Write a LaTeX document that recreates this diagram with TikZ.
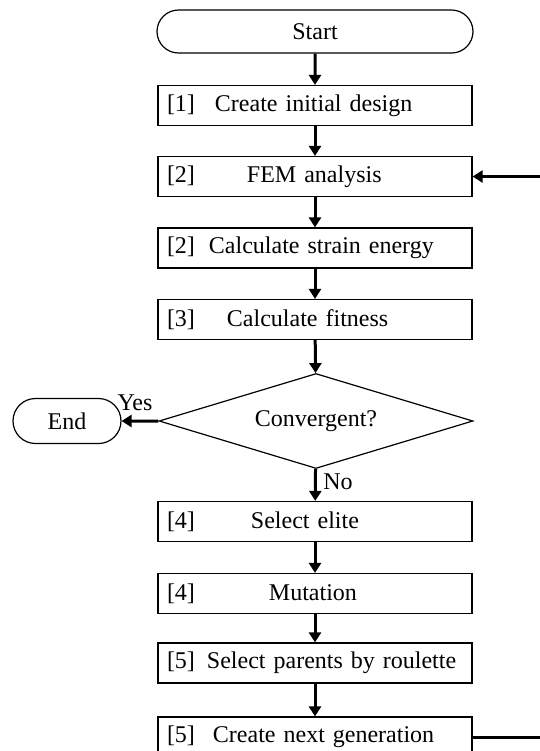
\documentclass[tikz,border=0pt]{standalone}
\usepackage{fontspec}
\setmainfont{Liberation Serif}
\usetikzlibrary{shapes.geometric,shapes.misc,arrows.meta}
\begin{document}
\begin{tikzpicture}[x=0.5pt,y=-0.5pt,
  every node/.style={font=\fontsize{12}{14}\selectfont},
  stepbox/.style={draw,line width=0.6pt,text width=148pt,inner xsep=4.5pt,inner ysep=0pt,minimum height=20pt,align=left},
  term/.style={draw,rounded rectangle,line width=0.6pt,inner sep=0pt},
  decision/.style={draw,diamond,aspect=3.3,line width=0.6pt,inner sep=0pt,minimum width=157pt,minimum height=47.5pt},
  flow/.style={line width=1.5pt,-{Triangle[length=5pt,width=6pt]}}]
\useasboundingbox (0,0) rectangle (540,751);
\clip (0,0) rectangle (540,751);
\node[term,minimum width=158pt,minimum height=21.5pt] (start) at (315,31.5) {Start};
\node[stepbox] (b1) at (315,105.5) {[1]\hspace{10pt}Create initial design};
\node[stepbox] (b2) at (315,176.5) {[2]\hspace{26pt}FEM analysis};
\node[stepbox] (b3) at (315,248) {[2]\hspace{7pt}Calculate strain energy};
\node[stepbox] (b4) at (315,319.5) {[3]\hspace{16pt}Calculate fitness};
\node[decision] (conv) at (316,421) {Convergent?};
\node[term,minimum width=54pt,minimum height=22.5pt] (end) at (67,421) {End};
\node[stepbox] (b5) at (315,521.5) {[4]\hspace{28pt}Select elite};
\node[stepbox] (b6) at (315,593.5) {[4]\hspace{37pt}Mutation};
\node[stepbox] (b7) at (315,663) {[5]\hspace{6pt}Select parents by roulette};
\node[stepbox] (b8) at (315,737) {[5]\hspace{9pt}Create next generation};
\node (yes) at (135,403) {Yes};
\node (no) at (338,482) {No};
\draw[flow] (start) -- (b1);
\draw[flow] (b1) -- (b2);
\draw[flow] (b2) -- (b3);
\draw[flow] (b3) -- (b4);
\draw[flow] (b4) -- (conv);
\draw[flow] (conv) -- (end);
\draw[flow] (conv) -- (b5);
\draw[flow] (b5) -- (b6);
\draw[flow] (b6) -- (b7);
\draw[flow] (b7) -- (b8);
\draw[flow] (b8.east) -- (580,737) -- (580,176.5) -- (b2.east);
\end{tikzpicture}
\end{document}
